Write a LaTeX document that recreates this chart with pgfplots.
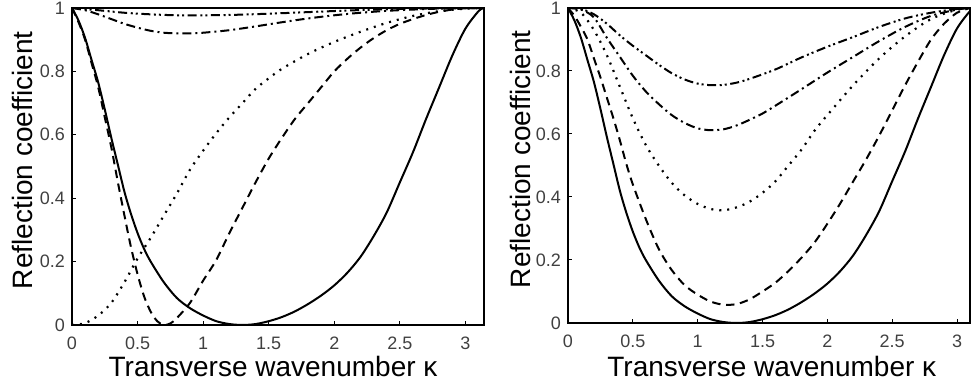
\documentclass[border=0pt]{standalone}
\usepackage{pgfplots}
\pgfplotsset{compat=1.18}
\usepackage{fontspec}
\setmainfont{Liberation Sans}
\definecolor{ticklab}{HTML}{404040}
\pgfplotsset{
  refl/.style={
    scale only axis,
    ymin=0, ymax=1,
    xmin=0,
    xtick={0,0.5,1,1.5,2,2.5,3},
    ytick={0,0.2,0.4,0.6,0.8,1},
    tick align=inside,
    tick pos=left,
    major tick length=2pt,
    every tick/.style={black, line width=0.5pt},
    axis line style={line width=0.9pt, black},
    /pgf/number format/assume math mode=true,
    ticklabel style={font=\fontsize{9}{10}\selectfont, text=ticklab},
    xticklabel style={anchor=base, yshift=-12.5pt},
    label style={font=\fontsize{14}{16}\selectfont},
    ylabel={Reflection coefficient},
    xlabel={Transverse wavenumber κ},
    clip=true,
  },
  sol/.style={black, line width=1pt, smooth},
  dsh/.style={black, line width=1pt, smooth, dash pattern=on 4.2pt off 2.8pt},
  dtt/.style={black, line width=1.1pt, smooth, dash pattern=on 1pt off 3pt},
  ddt/.style={black, line width=1pt, smooth, dash pattern=on 4.5pt off 2pt on 1pt off 2pt},
  dddt/.style={black, line width=1pt, smooth, dash pattern=on 4.5pt off 1.8pt on 1pt off 1.5pt on 1pt off 1.8pt},
}
\begin{document}
\begin{tikzpicture}
\path[use as bounding box] (-36pt,-30pt) rectangle (449.5pt,162.5pt);
% ---------------- left panel ----------------
\begin{axis}[refl, at={(0pt,0pt)}, anchor=south west,
  width=206pt, height=158.5pt, xmax=3.14159,
  xlabel style={at={(axis description cs:0.488,-0.163)}, anchor=base},
  ylabel style={at={(axis description cs:-0.0947,0.52)}, anchor=base},
]
\addplot[sol] coordinates {
(0,1) (0.05,0.96) (0.1,0.905) (0.15,0.835) (0.2,0.765) (0.25,0.68) (0.3,0.59)
(0.35,0.505) (0.4,0.42) (0.45,0.35) (0.5,0.29) (0.55,0.24) (0.6,0.2) (0.7,0.135)
(0.8,0.085) (0.9,0.053) (1.0,0.03) (1.1,0.012) (1.2,0.003) (1.3,0) (1.4,0.003)
(1.5,0.012) (1.6,0.025) (1.7,0.043) (1.8,0.066) (1.9,0.093) (2.0,0.125) (2.1,0.165)
(2.2,0.215) (2.3,0.28) (2.4,0.355) (2.5,0.45) (2.6,0.545) (2.7,0.65) (2.8,0.75)
(2.9,0.85) (3.0,0.935) (3.1,0.99) (3.14159,1)
};
\addplot[dsh] coordinates {
(0,1) (0.05,0.955) (0.1,0.9) (0.15,0.825) (0.2,0.75) (0.25,0.655) (0.3,0.56)
(0.35,0.45) (0.4,0.345) (0.45,0.245) (0.5,0.16) (0.55,0.09) (0.6,0.042) (0.65,0.012)
(0.7,0) (0.75,0.005) (0.8,0.022) (0.9,0.07) (1.0,0.14) (1.1,0.205) (1.2,0.29)
(1.3,0.37) (1.4,0.45) (1.5,0.525) (1.6,0.59) (1.7,0.65) (1.8,0.7) (1.9,0.75)
(2.0,0.8) (2.1,0.84) (2.2,0.875) (2.3,0.905) (2.4,0.93) (2.5,0.95) (2.6,0.965)
(2.7,0.978) (2.8,0.988) (2.9,0.995) (3.0,0.999) (3.14159,1)
};
\addplot[dtt] coordinates {
(0,0) (0.1,0.006) (0.2,0.03) (0.3,0.07) (0.4,0.135) (0.5,0.21) (0.6,0.275)
(0.7,0.345) (0.8,0.415) (0.9,0.49) (1.0,0.55) (1.1,0.605) (1.2,0.655) (1.3,0.7)
(1.4,0.745) (1.5,0.778) (1.6,0.808) (1.8,0.855) (2.0,0.893) (2.2,0.925) (2.4,0.953)
(2.6,0.975) (2.8,0.99) (3.0,0.998) (3.14159,1)
};
\addplot[ddt] coordinates {
(0,1) (0.1,0.993) (0.2,0.98) (0.3,0.965) (0.4,0.95) (0.5,0.938) (0.6,0.928)
(0.7,0.922) (0.8,0.92) (0.9,0.92) (1.0,0.922) (1.2,0.93) (1.4,0.942) (1.6,0.955)
(1.8,0.967) (2.0,0.977) (2.2,0.985) (2.4,0.991) (2.6,0.995) (2.8,0.998) (3.14159,1)
};
\addplot[dddt] coordinates {
(0,1) (0.2,0.993) (0.4,0.985) (0.6,0.98) (0.8,0.977) (1.0,0.977) (1.2,0.978)
(1.5,0.982) (1.8,0.987) (2.1,0.992) (2.4,0.996) (2.8,0.999) (3.14159,1)
};
\end{axis}
% ---------------- right panel ----------------
\begin{axis}[refl, at={(248pt,1pt)}, anchor=south west,
  width=201pt, height=157.5pt, xmax=3.1,
  xlabel style={at={(axis description cs:0.507,-0.170)}, anchor=base},
  ylabel style={at={(axis description cs:-0.0945,0.52)}, anchor=base},
]
\addplot[sol] coordinates {
(0,1) (0.05,0.96) (0.1,0.905) (0.15,0.835) (0.2,0.765) (0.25,0.68) (0.3,0.59)
(0.35,0.505) (0.4,0.42) (0.45,0.35) (0.5,0.29) (0.55,0.24) (0.6,0.2) (0.7,0.135)
(0.8,0.085) (0.9,0.053) (1.0,0.03) (1.1,0.012) (1.2,0.003) (1.3,0) (1.4,0.003)
(1.5,0.012) (1.6,0.025) (1.7,0.043) (1.8,0.066) (1.9,0.093) (2.0,0.125) (2.1,0.165)
(2.2,0.215) (2.3,0.28) (2.4,0.355) (2.5,0.45) (2.6,0.545) (2.7,0.65) (2.8,0.75)
(2.9,0.85) (3.0,0.935) (3.1,0.99) (3.14159,1)
};
\addplot[dsh] coordinates {
(0,1) (0.05,0.975) (0.1,0.94) (0.15,0.9) (0.2,0.84) (0.25,0.78) (0.3,0.715)
(0.35,0.65) (0.4,0.58) (0.45,0.505) (0.5,0.44) (0.6,0.33) (0.7,0.235) (0.8,0.168)
(0.9,0.12) (1.0,0.09) (1.1,0.068) (1.2,0.058) (1.3,0.06) (1.4,0.075) (1.5,0.1)
(1.6,0.128) (1.7,0.165) (1.8,0.207) (1.9,0.255) (2.0,0.315) (2.1,0.38) (2.2,0.45)
(2.3,0.52) (2.4,0.595) (2.5,0.675) (2.6,0.755) (2.7,0.83) (2.8,0.9) (2.9,0.95)
(3.0,0.985) (3.1,1)
};
\addplot[dtt] coordinates {
(0,1) (0.1,0.985) (0.2,0.93) (0.3,0.85) (0.4,0.75) (0.5,0.65) (0.6,0.565)
(0.7,0.5) (0.8,0.445) (0.9,0.405) (1.0,0.378) (1.1,0.362) (1.2,0.358) (1.3,0.367)
(1.4,0.385) (1.5,0.413) (1.6,0.45) (1.7,0.5) (1.8,0.55) (1.9,0.61) (2.0,0.66)
(2.2,0.755) (2.4,0.84) (2.6,0.91) (2.8,0.965) (3.0,0.995) (3.1,1)
};
\addplot[ddt] coordinates {
(0,1) (0.1,0.995) (0.2,0.97) (0.3,0.905) (0.4,0.845) (0.5,0.785) (0.6,0.735)
(0.7,0.695) (0.8,0.66) (0.9,0.635) (1.0,0.618) (1.1,0.612) (1.2,0.615) (1.3,0.627)
(1.4,0.645) (1.5,0.665) (1.6,0.69) (1.8,0.742) (2.0,0.795) (2.2,0.845) (2.4,0.895)
(2.6,0.94) (2.8,0.975) (3.0,0.995) (3.1,1)
};
\addplot[dddt] coordinates {
(0,1) (0.1,0.997) (0.2,0.98) (0.3,0.95) (0.4,0.913) (0.5,0.88) (0.6,0.85)
(0.7,0.82) (0.8,0.793) (0.9,0.773) (1.0,0.76) (1.1,0.755) (1.2,0.756) (1.3,0.763)
(1.4,0.775) (1.6,0.805) (1.8,0.843) (2.0,0.877) (2.2,0.908) (2.4,0.94) (2.6,0.967)
(2.8,0.985) (3.0,0.997) (3.1,1)
};
\end{axis}
\end{tikzpicture}
\end{document}
